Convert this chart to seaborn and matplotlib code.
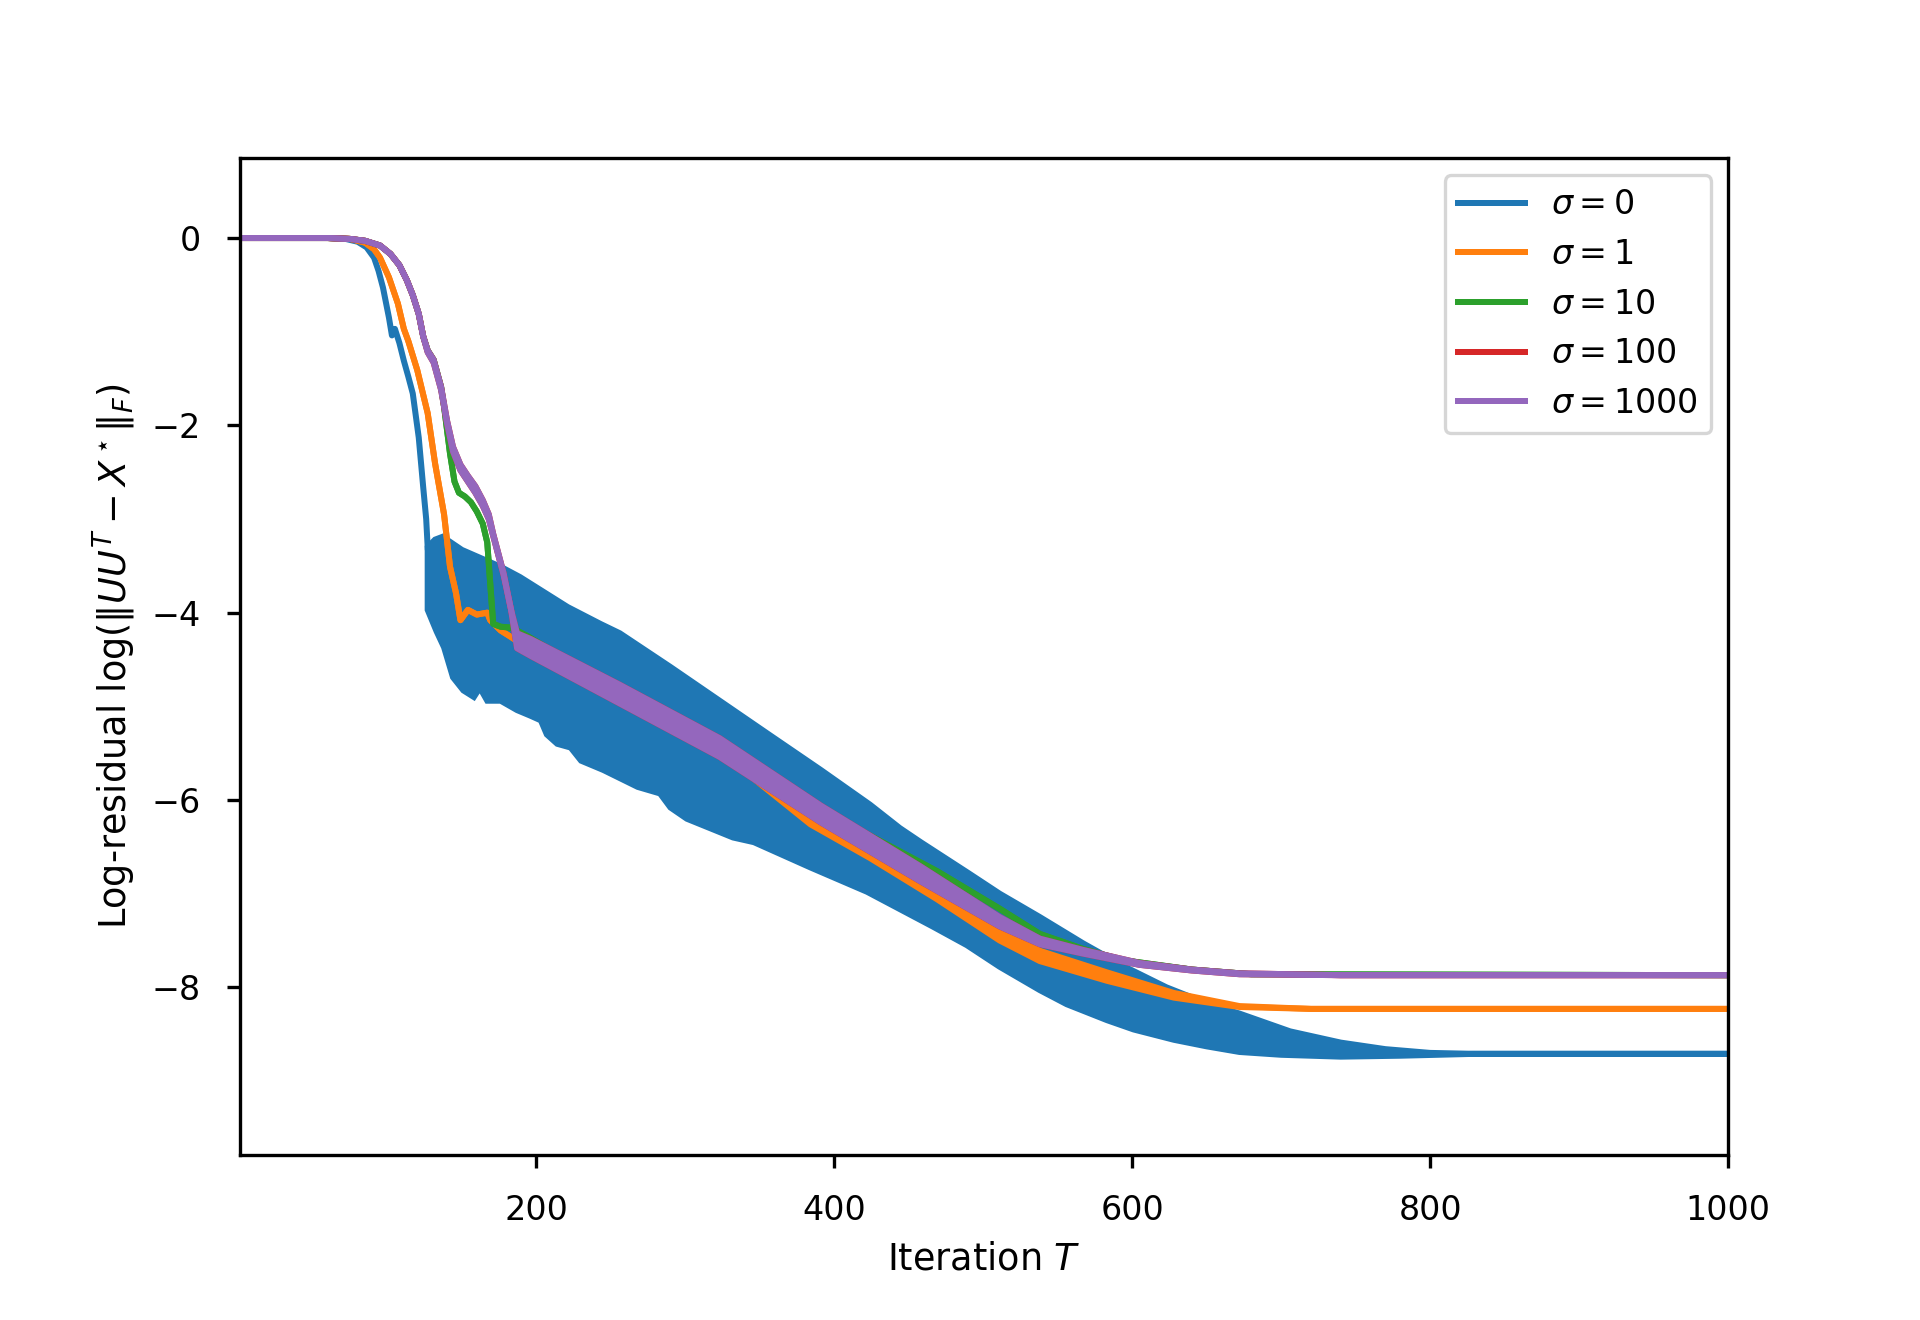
import matplotlib
matplotlib.use("Agg")
import matplotlib.pyplot as plt
import seaborn as sns

# Curves (iteration T, log-residual)
sigmas = ["0", "1", "10", "100", "1000"]

# sigma = 0 : a single line until T~127, then an oscillating band (upper / lower edge)
blue_T = [1, 60, 72, 80, 86, 91, 94, 97, 99, 101, 103, 105, 108, 111, 114, 117, 121, 124, 126, 127]
blue_y = [0, 0, -0.01, -0.04, -0.10, -0.21, -0.35, -0.53, -0.69, -0.85, -1.04, -0.97, -1.12,
          -1.31, -1.48, -1.66, -2.13, -2.66, -3.0, -3.3]
blue_hi_T = [127, 132, 137, 150, 176, 189, 221, 243, 256, 290, 323, 356, 391, 424, 444, 458, 490,
             511, 538, 567, 595, 623, 650, 672, 706, 740, 770, 800, 830, 1000]
blue_hi = [-3.30, -3.22, -3.19, -3.33, -3.51, -3.62, -3.94, -4.12, -4.22, -4.58, -4.94, -5.30, -5.68,
           -6.05, -6.30, -6.45, -6.78, -7.00, -7.25, -7.53, -7.78, -8.00, -8.17, -8.28, -8.47, -8.59,
           -8.66, -8.70, -8.71, -8.71]
blue_lo_T = [127, 133, 138, 144, 151, 158, 162, 167, 176, 187, 196, 203, 207, 214, 223, 230, 245,
             268, 283, 290, 301, 332, 346, 384, 422, 466, 489, 511, 538, 556, 583, 601, 628, 650,
             672, 700, 740, 780, 830, 1000]
blue_lo = [-3.97, -4.20, -4.37, -4.69, -4.83, -4.90, -4.80, -4.94, -4.94, -5.04, -5.10, -5.15, -5.30,
           -5.40, -5.44, -5.58, -5.68, -5.86, -5.93, -6.08, -6.20, -6.40, -6.45, -6.72, -6.98, -7.35,
           -7.55, -7.78, -8.03, -8.18, -8.35, -8.45, -8.56, -8.63, -8.69, -8.72, -8.74, -8.73,
           -8.71, -8.71]

# sigma = 1
orange_T = [1, 60, 75, 85, 91, 95, 101, 107, 111, 114, 120, 127, 132, 138, 142, 146, 149, 154, 160,
            167, 169, 176, 183, 196, 256, 323, 384, 424, 469, 511, 538, 583, 628, 672, 720, 1000]
orange_hi = [0, 0, -0.01, -0.05, -0.12, -0.21, -0.42, -0.70, -0.97, -1.10, -1.41, -1.87, -2.41,
             -2.95, -3.51, -3.79, -4.08, -3.97, -4.02, -4.00, -4.08, -4.19, -4.26, -4.40, -4.90,
             -5.48, -6.18, -6.52, -6.94, -7.36, -7.61, -7.84, -8.06, -8.20, -8.23, -8.23]
orange_lo = [0, 0, -0.01, -0.05, -0.12, -0.21, -0.42, -0.70, -0.97, -1.10, -1.41, -1.87, -2.41,
             -2.95, -3.51, -3.79, -4.08, -3.97, -4.02, -4.00, -4.08, -4.19, -4.26, -4.40, -4.90,
             -5.48, -6.26, -6.62, -7.06, -7.50, -7.72, -7.93, -8.11, -8.21, -8.23, -8.23]

# sigma = 10
green_T = [1, 60, 75, 85, 95, 102, 108, 113, 117, 121, 124, 127, 131, 136, 138, 142, 145, 148, 152,
           156, 160, 164, 167, 169, 171, 176, 183, 194, 256, 323, 391, 424, 469, 511, 538, 567, 594,
           640, 680, 1000]
green_y = [0, 0, -0.01, -0.03, -0.08, -0.17, -0.29, -0.45, -0.61, -0.81, -1.05, -1.20, -1.30, -1.59,
           -1.80, -2.30, -2.60, -2.72, -2.76, -2.82, -2.92, -3.05, -3.25, -3.69, -4.12, -4.15, -4.16,
           -4.25, -4.84, -5.42, -6.10, -6.38, -6.76, -7.16, -7.43, -7.59, -7.71, -7.81, -7.86, -7.87]

# sigma = 1000 (sigma = 100 lies underneath it)
purple_T = [1, 60, 75, 85, 95, 102, 108, 113, 117, 121, 124, 127, 131, 136, 140, 144, 149, 154, 159,
            164, 168, 171, 175, 178, 183, 187, 196, 256, 323, 391, 458, 511, 538, 567, 605, 640, 672,
            740, 1000]
purple_hi = [0, 0, -0.01, -0.03, -0.08, -0.17, -0.29, -0.45, -0.61, -0.81, -1.05, -1.20, -1.30,
             -1.59, -1.95, -2.23, -2.42, -2.54, -2.65, -2.80, -2.95, -3.16, -3.40, -3.58, -3.97,
             -4.22, -4.28, -4.77, -5.34, -6.06, -6.71, -7.25, -7.48, -7.60, -7.74, -7.81, -7.85,
             -7.87, -7.87]
purple_lo = [0, 0, -0.01, -0.03, -0.08, -0.17, -0.29, -0.45, -0.61, -0.81, -1.05, -1.22, -1.33,
             -1.62, -1.98, -2.28, -2.48, -2.60, -2.72, -2.86, -3.00, -3.18, -3.42, -3.60, -3.97,
             -4.38, -4.46, -4.97, -5.54, -6.24, -6.87, -7.35, -7.54, -7.64, -7.76, -7.82, -7.86,
             -7.87, -7.87]
red_T, red_hi, red_lo = purple_T, purple_hi, purple_lo

colors = sns.color_palette("tab10")
lw = 1.8

fig = plt.figure(figsize=(8, 5.5), dpi=240)
ax = fig.add_axes([0.125, 0.125, 0.775, 0.755])

# sigma = 0
sns.lineplot(x=blue_T, y=blue_y, color=colors[0], lw=lw, sort=False, estimator=None, ax=ax,
             label=r"$\sigma = 0$")
ax.fill(blue_hi_T + blue_lo_T[::-1], blue_hi + blue_lo[::-1], color=colors[0], lw=lw, zorder=2)

series = [
    (orange_T, orange_hi, orange_lo, colors[1], sigmas[1]),
    (green_T, green_y, green_y, colors[2], sigmas[2]),
    (red_T, red_hi, red_lo, colors[3], sigmas[3]),
    (purple_T, purple_hi, purple_lo, colors[4], sigmas[4]),
]
for T, hi, lo, c, s in series:
    sns.lineplot(x=T, y=hi, color=c, lw=lw, sort=False, estimator=None, ax=ax,
                 label=r"$\sigma = %s$" % s)
    sns.lineplot(x=T, y=lo, color=c, lw=lw, sort=False, estimator=None, ax=ax)
    # same zorder as the lines so each series covers the ones drawn before it
    ax.fill_between(T, lo, hi, color=c, lw=0, zorder=2)

ax.set_xlim(1, 1000)
ax.set_ylim(-9.79, 0.85)
ax.set_xlabel(r"Iteration $T$", fontsize=11)
ax.set_ylabel(r"Log-residual $\log(\|UU^T - X^\star\|_F)$", fontsize=11)
ax.tick_params(pad=7.8, length=3.9, width=1.0)
for sp in ax.spines.values():
    sp.set_linewidth(1.0)
ax.legend(loc="upper right")

fig.savefig("out.png", dpi=240)
